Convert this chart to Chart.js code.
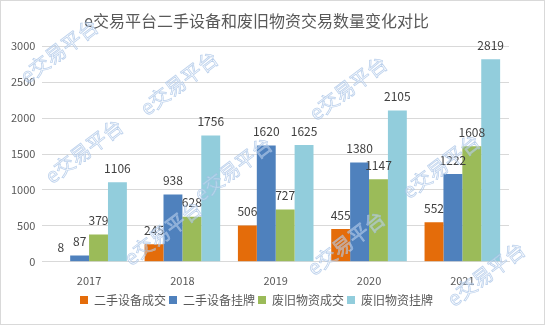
<!DOCTYPE html>
<html>
<head>
<meta charset="utf-8">
<script src="https://cdn.jsdelivr.net/npm/chart.js@4"></script>
<style>
  html, body { margin: 0; padding: 0; background: #fff; }
  #wrap { position: relative; width: 543px; height: 323px; border: 1px solid #d9d9d9; }
</style>
</head>
<body>
<div id="wrap"><canvas id="tradeChart" width="543" height="323"></canvas></div>
<script>
const years = ['2017', '2018', '2019', '2020', '2021'];
const usedDeals = [8, 245, 506, 455, 552];
const usedListings = [87, 938, 1620, 1380, 1222];
const scrapDeals = [379, 628, 727, 1147, 1608];
const scrapListings = [1106, 1756, 1625, 2105, 2819];
const seriesNames = ['二手设备成交', '二手设备挂牌', '废旧物资成交', '废旧物资挂牌'];
const watermarkText = 'e交易平台';

const FONT = '"Noto Sans CJK SC", "Noto Sans", sans-serif';

// value labels above each bar
const barLabels = {
    id: 'barLabels',
    afterDatasetsDraw(chart) {
        const ctx = chart.ctx;
        ctx.save();
        ctx.fillStyle = '#404040';
        ctx.font = '12px ' + FONT;
        ctx.textAlign = 'center';
        ctx.textBaseline = 'middle';
        chart.data.datasets.forEach((ds, i) => {
            chart.getDatasetMeta(i).data.forEach((bar, j) => {
                ctx.fillText(String(ds.data[j]), bar.x, bar.y - 14);
            });
        });
        ctx.restore();
    }
};

// diagonal outlined watermark
const watermark = {
    id: 'watermark',
    afterDraw(chart) {
        const ctx = chart.ctx;
        const spots = [[58, 50], [178, 82], [83, 150], [232, 168], [347, 87], [440, 165], [162, 232], [345, 242], [485, 273]];
        ctx.save();
        ctx.font = '20px ' + FONT;
        ctx.textAlign = 'center';
        ctx.textBaseline = 'middle';
        ctx.lineWidth = 0.8;
        spots.forEach(([x, y]) => {
            ctx.save();
            ctx.translate(x, y);
            ctx.rotate(-37 * Math.PI / 180);
            ctx.fillStyle = 'rgba(255,255,255,0.35)';
            ctx.fillText(watermarkText, 0, 0);
            ctx.strokeStyle = 'rgba(160,190,228,0.7)';
            ctx.strokeText(watermarkText, 0, 0);
            ctx.restore();
        });
        ctx.restore();
    }
};

const ctx = document.getElementById('tradeChart').getContext('2d');
new Chart(ctx, {
    type: 'bar',
    data: {
        labels: years,
        datasets: [
            { label: seriesNames[0], data: usedDeals, backgroundColor: '#e46c0a' },
            { label: seriesNames[1], data: usedListings, backgroundColor: '#4f81bd' },
            { label: seriesNames[2], data: scrapDeals, backgroundColor: '#9bbb59' },
            { label: seriesNames[3], data: scrapListings, backgroundColor: '#92cddc' }
        ]
    },
    options: {
        responsive: false,
        animation: false,
        events: [],
        layout: { padding: { left: 3, right: 35, top: 8, bottom: 8 } },
        datasets: {
            bar: { categoryPercentage: 0.81, barPercentage: 1.0 }
        },
        plugins: {
            title: {
                display: true,
                text: 'e交易平台二手设备和废旧物资交易数量变化对比',
                color: '#595959',
                font: { family: FONT, size: 16, weight: 'normal' },
                padding: { top: 2, bottom: 16 }
            },
            legend: {
                position: 'bottom',
                labels: {
                    color: '#595959',
                    font: { family: FONT, size: 12 },
                    boxWidth: 8,
                    boxHeight: 8,
                    padding: 3
                }
            },
            tooltip: { enabled: false }
        },
        scales: {
            x: {
                grid: { display: false },
                border: { color: '#d9d9d9' },
                ticks: { color: '#595959', font: { family: FONT, size: 11 }, padding: 4 }
            },
            y: {
                min: 0,
                max: 3000,
                ticks: {
                    stepSize: 500,
                    color: '#595959',
                    font: { family: FONT, size: 11 },
                    padding: 7,
                    callback: v => String(v)
                },
                grid: { color: '#d9d9d9', drawTicks: false },
                border: { display: false }
            }
        }
    },
    plugins: [barLabels, watermark]
});
</script>
</body>
</html>
